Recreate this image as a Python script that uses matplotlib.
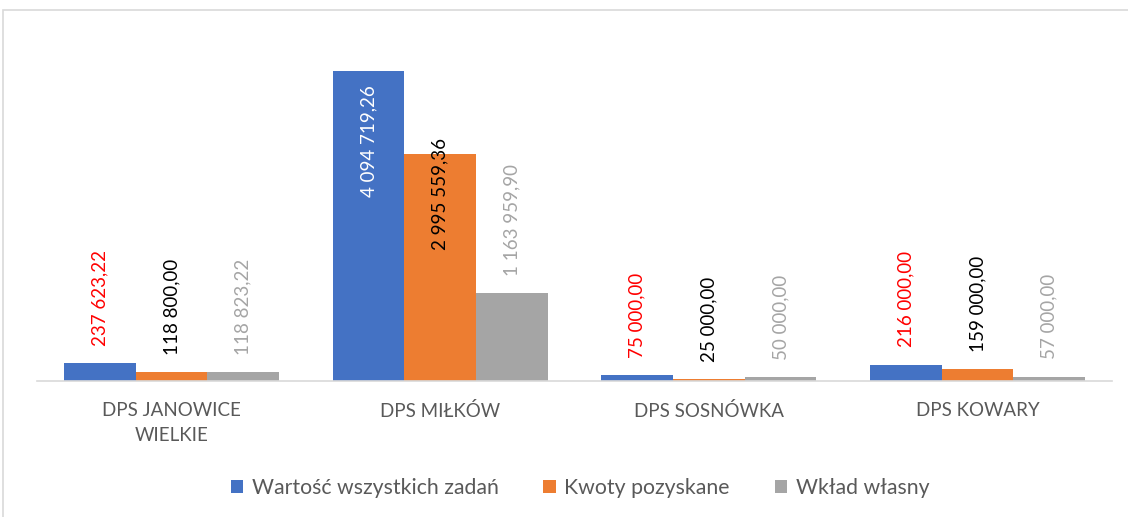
import numpy as np
import matplotlib
matplotlib.use('Agg')
from matplotlib import pyplot as plt
from matplotlib.patches import Rectangle

plt.rcParams['font.family'] = ['Lato', 'DejaVu Sans']

categories = ['DPS JANOWICE\nWIELKIE', 'DPS MIŁKÓW', 'DPS SOSNÓWKA', 'DPS KOWARY']
series_names = ['Wartość wszystkich zadań', 'Kwoty pozyskane', 'Wkład własny']
wartosc = [237623.22, 4094719.26, 75000.00, 216000.00]
kwoty = [118800.00, 2995559.36, 25000.00, 159000.00]
wklad = [118823.22, 1163959.90, 50000.00, 57000.00]

colors = ['#4472C4', '#ED7D31', '#A5A5A5']
label_colors = ['#FF0000', '#000000', '#A5A5A5']


def fmt(v):
    s = '{:,.2f}'.format(v)
    return s.replace(',', ' ').replace('.', ',')


fig = plt.figure(figsize=(11.28, 5.17), dpi=100)

# outer chart frame (cut off at right and bottom)
fig.patches.append(Rectangle((3/1128, -0.1), 1.2, (517-10)/517 + 0.1, transform=fig.transFigure,
                             fill=False, edgecolor='#D9D9D9', linewidth=1.2))

ax = fig.add_axes([37/1128, 1-381/517, 1075/1128, 351/517])
ax.set_xlim(-0.5, 3.5)
ax.set_ylim(0, 4636284)

x = np.arange(len(categories))
w = 0.8/3
data = [wartosc, kwoty, wklad]
fs = 13.5
for i, vals in enumerate(data):
    xs = x + (i-1)*w
    ax.bar(xs, vals, width=w, color=colors[i], label=series_names[i], zorder=2)
    for j, v in enumerate(vals):
        if i == 0 and j == 1:
            # label inside top of the tall bar
            ax.annotate(fmt(v), (xs[j], v), xytext=(0, -10), textcoords='offset points',
                        rotation=90, ha='center', va='top', color='white', fontsize=fs)
        elif i == 1 and j == 1:
            ax.annotate(fmt(v), (xs[j], v), xytext=(0, 11.5), textcoords='offset points',
                        rotation=90, ha='center', va='top', color=label_colors[i], fontsize=fs)
        else:
            ax.annotate(fmt(v), (xs[j], v), xytext=(0, 12.5), textcoords='offset points',
                        rotation=90, ha='center', va='bottom', color=label_colors[i], fontsize=fs)

for s in ['top', 'right', 'left']:
    ax.spines[s].set_visible(False)
ax.spines['bottom'].set_color('#D9D9D9')
ax.spines['bottom'].set_linewidth(1.2)
ax.set_yticks([])
ax.set_xticks(x)
ax.set_xticklabels(categories, color='#595959', fontsize=13.5, linespacing=1.55)
ax.tick_params(axis='x', length=0, pad=15)

leg = fig.legend(loc='center', bbox_to_anchor=(580/1128, 1-488/517), ncol=3, frameon=False,
                 fontsize=15.3, handlelength=0.6, handleheight=0.6, handletextpad=0.4,
                 columnspacing=2.1)
for t in leg.get_texts():
    t.set_color('#595959')

fig.savefig('out.png', dpi=100)
